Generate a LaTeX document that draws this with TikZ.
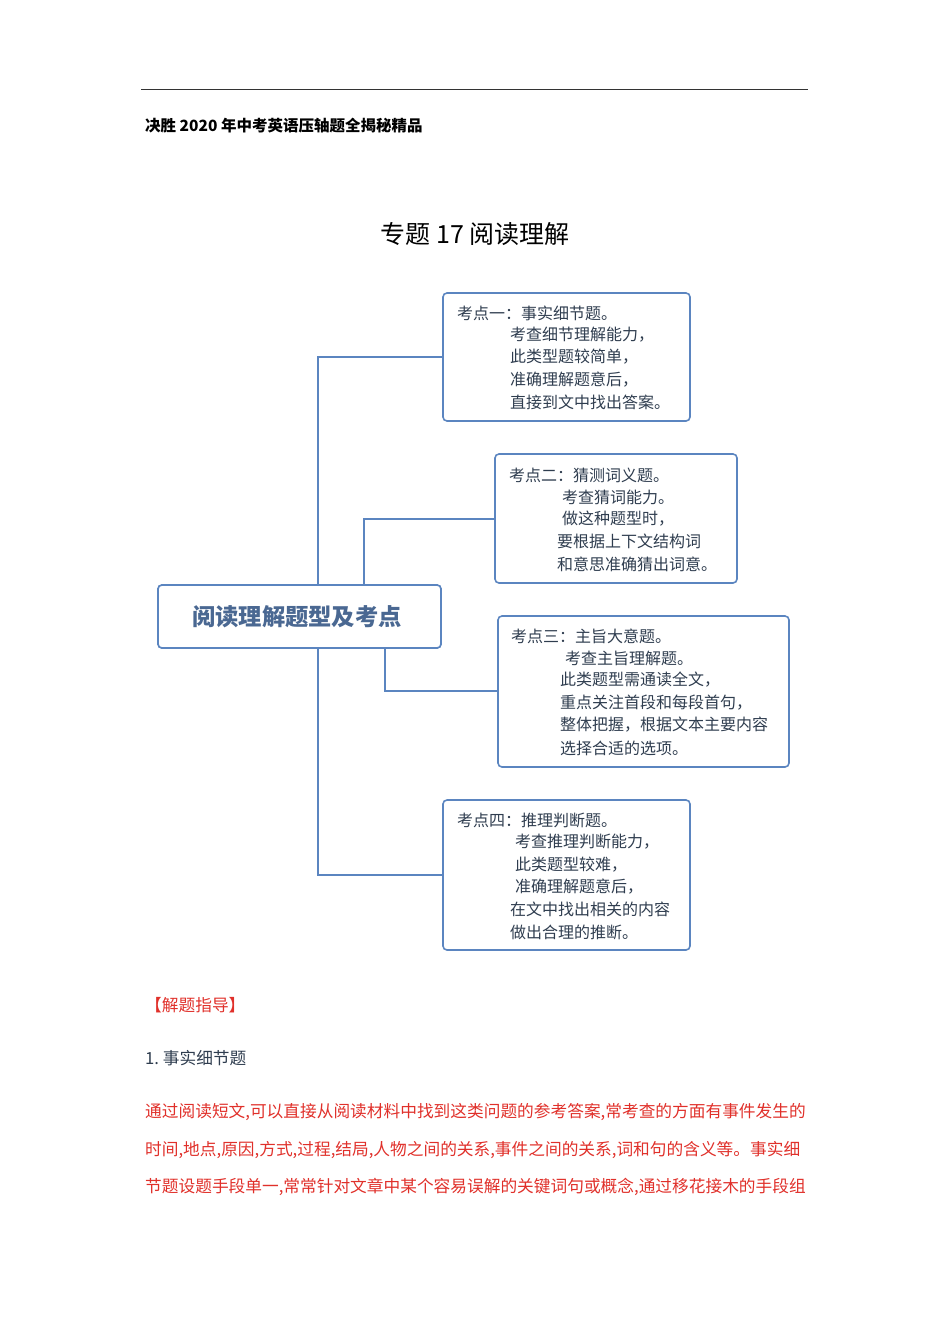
\documentclass[tikz,border=0pt]{standalone}
\usepackage{fontspec}
\setmainfont{Noto Sans CJK SC}
\newfontfamily\cjk{Noto Sans CJK SC}
\definecolor{bbox}{HTML}{5B85C0}
\definecolor{btxt}{HTML}{2F3D4F}
\definecolor{ctxt}{HTML}{4A6892}
\definecolor{rtxt}{HTML}{E0302A}
\tikzset{
  kbox/.style={draw=bbox,line width=1.6pt,rounded corners=4pt},
  conn/.style={draw=bbox,line width=1.4pt},
  ln/.style={anchor=west,inner sep=0pt,text=btxt,font=\fontsize{16}{16}\selectfont},
  para/.style={anchor=west,inner sep=0pt,text=rtxt,font=\fontsize{16.7}{16}\selectfont}
}
\begin{document}
\begin{tikzpicture}[x=1pt,y=-1pt]
\useasboundingbox (0,0) rectangle (950,1344);
\draw[line width=1pt,black!80] (141,89) -- (808,89);
\node[anchor=west,inner sep=0pt,font=\fontsize{15.5}{15}\selectfont\bfseries] (hdr) at (145,126) {决胜 2020 年中考英语压轴题全揭秘精品};
\node[inner sep=0pt,font=\fontsize{25}{25}\selectfont] (title) at (475,234) {专题 17 阅读理解};
% connectors
\coordinate (c1) at (318,357);
\coordinate (c4) at (318,875);
\coordinate (c2) at (364,519);
\coordinate (c3) at (385,691);
\node[kbox,minimum width=283pt,minimum height=63pt,fill=white] (center) at (299.5,616.5) {};
\node[kbox,minimum width=247pt,minimum height=128pt] (b1) at (566.5,357) {};
\node[kbox,minimum width=242pt,minimum height=129pt] (b2) at (616,518.5) {};
\node[kbox,minimum width=291pt,minimum height=151pt] (b3) at (643.5,691.5) {};
\node[kbox,minimum width=247pt,minimum height=150pt] (b4) at (566.5,875) {};
\draw[conn] (b1.west) -- (c1) -- (c4) -- (b4.west);
\draw[conn] (center.north -| c2) -- (c2) -- (b2.west |- c2);
\draw[conn] (center.south -| c3) -- (c3) -- (b3.west |- c3);
\node[kbox,minimum width=283pt,minimum height=63pt,fill=white] at (299.5,616.5) {};
\node[text=ctxt,font=\fontsize{23.3}{23}\selectfont\bfseries] (ct) at (297,617) {阅读理解题型及考点};
% box texts
\node[ln] at (457,313) {考点一：事实细节题。};
\node[ln] at (510,335) {考查细节理解能力，};
\node[ln] at (510,357) {此类型题较简单，};
\node[ln] at (510,380) {准确理解题意后，};
\node[ln] at (510,402) {直接到文中找出答案。};
\node[ln] at (509,475) {考点二：猜测词义题。};
\node[ln] at (562,497) {考查猜词能力。};
\node[ln] at (562,519) {做这种题型时，};
\node[ln] at (557,541) {要根据上下文结构词};
\node[ln] at (557,564) {和意思准确猜出词意。};
\node[ln] at (511,636) {考点三：主旨大意题。};
\node[ln] at (565,658) {考查主旨理解题。};
\node[ln] at (560,680) {此类题型需通读全文，};
\node[ln] at (560,703) {重点关注首段和每段首句，};
\node[ln] at (560,725) {整体把握，根据文本主要内容};
\node[ln] at (560,748) {选择合适的选项。};
\node[ln] at (457,820) {考点四：推理判断题。};
\node[ln] at (515,842) {考查推理判断能力，};
\node[ln] at (515,865) {此类题型较难，};
\node[ln] at (515,887) {准确理解题意后，};
\node[ln] at (510,909) {在文中找出相关的内容};
\node[ln] at (510,932) {做出合理的推断。};
% bottom text
\node[para] at (145,1005) {【解题指导】};
\node[para,text=btxt] at (145,1058) {1.\ 事实细节题};
\node[para] at (145,1112) {通过阅读短文,可以直接从阅读材料中找到这类问题的参考答案,常考查的方面有事件发生的};
\node[para] at (145,1150) {时间,地点,原因,方式,过程,结局,人物之间的关系,事件之间的关系,词和句的含义等。事实细};
\node[para] at (145,1187) {节题设题手段单一,常常针对文章中某个容易误解的关键词句或概念,通过移花接木的手段组};
\end{tikzpicture}
\end{document}
